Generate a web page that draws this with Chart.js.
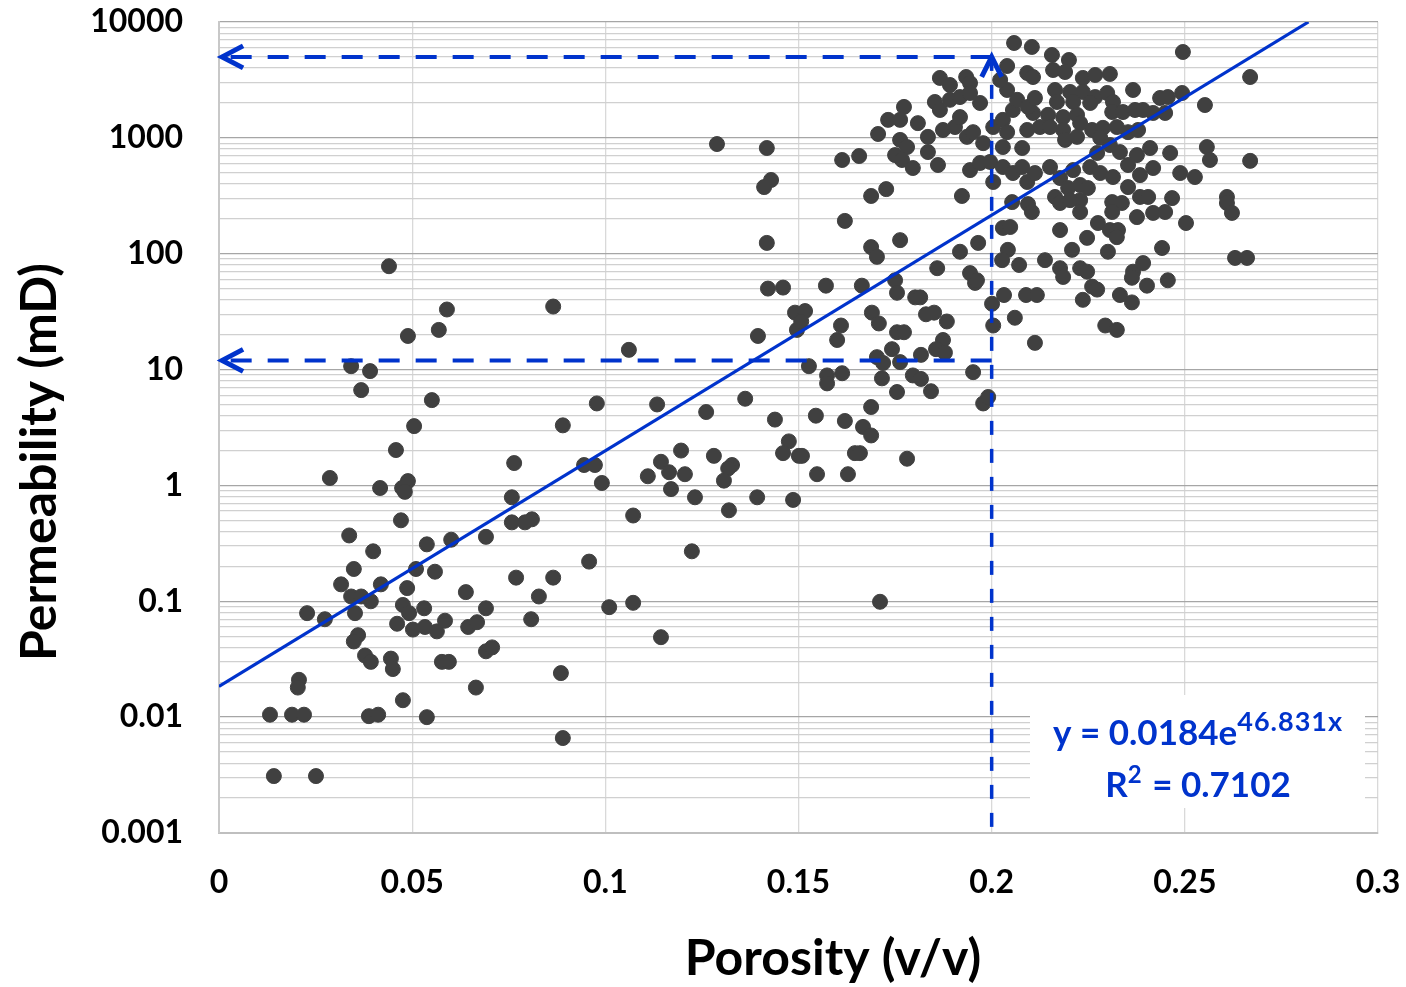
<!DOCTYPE html>
<html>
<head>
<meta charset="utf-8">
<title>Porosity vs Permeability</title>
<script src="https://cdn.jsdelivr.net/npm/chart.js@4.4.1/dist/chart.umd.min.js"></script>
<style>
  html, body { margin: 0; padding: 0; background: #ffffff; }
  #wrap { width: 1406px; height: 987px; position: relative; }
</style>
</head>
<body>
<div id="wrap"><canvas id="chart" width="1406" height="987"></canvas></div>
<script>
// Core plug measurements: porosity (v/v) and permeability (mD)
const porosity = [
  0.0440,0.0590,0.0569,0.0489,0.0342,0.0391,0.0368,0.0551,0.0505,0.0458,
  0.0764,0.0287,0.0417,0.0489,0.0474,0.0481,0.0758,0.0471,0.0337,0.0399,
  0.0538,0.0601,0.0691,0.0758,0.0349,0.0510,0.0559,0.0769,0.0316,0.0419,
  0.0487,0.0639,0.0342,0.0368,0.0393,0.0228,0.0274,0.0352,0.0476,0.0492,
  0.0531,0.0691,0.0461,0.0502,0.0533,0.0564,0.0585,0.0645,0.0668,0.0360,
  0.0349,0.0378,0.0393,0.0445,0.0450,0.0577,0.0595,0.0691,0.0707,0.0207,
  0.0204,0.0476,0.0665,0.0132,0.0189,0.0220,0.0388,0.0412,0.0538,0.0142,
  0.0251,
  0.1395,0.1496,0.1061,0.0978,0.1134,0.1261,0.1362,0.1439,0.0890,0.1475,
  0.1460,0.1501,0.0945,0.0973,0.0991,0.1144,0.1165,0.1196,0.1206,0.1110,
  0.1170,0.1281,0.1328,0.1318,0.1307,0.1232,0.1393,0.1320,0.1486,0.1072,
  0.0792,0.0810,0.1224,0.0958,0.0865,0.0828,0.0808,0.1010,0.1072,0.1144,
  0.0885,0.0890,0.0865,
  0.1289,0.1418,0.1429,0.1411,0.1613,0.1657,0.1706,0.1732,0.1727,0.1688,
  0.1620,0.1418,0.1688,0.1703,0.1763,0.1421,0.1460,0.1571,0.1664,0.1750,
  0.1755,0.1491,0.1517,0.1507,0.1610,0.1600,0.1690,0.1708,0.1755,0.1742,
  0.1527,0.1574,0.1574,0.1613,0.1703,0.1719,0.1716,0.1755,0.1545,0.1620,
  0.1688,0.1667,0.1688,0.1509,0.1646,0.1548,0.1628,0.1750,
  0.1802,0.1815,0.1957,0.2001,0.2004,0.2032,0.2089,0.2117,0.2060,0.2112,
  0.1830,0.1851,0.1884,0.1773,0.1874,0.1856,0.1879,0.1817,0.1763,0.1796,
  0.1817,0.1843,0.1952,0.1978,0.1991,0.1659,0.1781,0.1711,
  0.2058,0.2104,0.2040,0.1866,0.1892,0.1934,0.1944,0.2092,0.1853,0.1866,
  0.1773,0.1763,0.1809,0.1763,0.1781,0.1768,0.1796,0.1835,0.1835,0.1861,
  0.1874,0.1905,0.1936,0.1952,0.1892,0.1918,0.1944,0.1970,0.1918,0.1978,
  0.2004,0.2029,0.2040,0.2055,0.2066,0.2040,0.2022,0.2029,0.1944,0.1970,
  0.1996,0.2029,0.2055,0.2079,0.2004,0.2079,0.2092,0.2107,0.2094,0.2092,
  0.2112,0.1923,0.2053,0.2094,0.2104,0.2112,0.2029,0.2048,0.1965,0.1918,
  0.2042,0.2027,0.2071,0.1859,0.1944,0.1962,0.2107,
  0.2495,0.2156,0.2200,0.2159,0.2190,0.2236,0.2268,0.2306,0.2164,0.2203,
  0.2236,0.2268,0.2299,0.2366,0.2436,0.2456,0.2493,0.2669,0.2552,0.2169,
  0.2211,0.2255,0.2314,0.2146,0.2185,0.2221,0.2312,0.2340,0.2371,0.2392,
  0.2418,0.2449,0.2125,0.2151,0.2185,0.2229,0.2260,0.2288,0.2324,0.2353,
  0.2379,0.2190,0.2221,0.2281,0.2306,0.2273,0.2332,0.2376,0.2410,0.2462,
  0.2557,0.2565,0.2669,0.2151,0.2177,0.2211,0.2255,0.2281,0.2314,0.2353,
  0.2384,0.2418,0.2488,0.2526,0.2164,0.2198,0.2229,0.2249,0.2229,0.2177,
  0.2203,0.2312,0.2337,0.2312,0.2353,0.2384,0.2405,0.2467,0.2229,0.2376,
  0.2418,0.2449,0.2609,0.2609,0.2622,0.2503,0.2177,0.2275,0.2306,0.2327,
  0.2324,0.2247,0.2208,0.2301,0.2441,0.2138,0.2630,0.2661,0.2177,0.2185,
  0.2229,0.2247,0.2366,0.2392,0.2363,0.2456,0.2260,0.2236,0.2273,0.2332,
  0.2363,0.2402,0.2294,0.2324
];
const permeability = [
  78,33,22,19.5,10.7,9.7,6.65,5.45,3.25,2.02,
  1.56,1.16,0.95,1.09,0.95,0.88,0.79,0.50,0.37,0.27,
  0.31,0.34,0.36,0.48,0.19,0.19,0.18,0.16,0.14,0.14,
  0.13,0.12,0.11,0.11,0.10,0.079,0.070,0.079,0.093,0.079,
  0.087,0.087,0.064,0.057,0.060,0.055,0.068,0.060,0.066,0.051,
  0.045,0.034,0.030,0.032,0.026,0.030,0.030,0.037,0.040,0.021,
  0.018,0.014,0.018,0.0105,0.0105,0.0105,0.0102,0.0105,0.010,0.0031,
  0.0031,
  19.5,22,14.8,5.1,5.0,4.3,5.6,3.7,3.3,2.4,
  1.9,1.8,1.5,1.5,1.05,1.6,1.3,2.0,1.25,1.2,
  0.93,1.8,1.5,1.4,1.1,0.79,0.79,0.61,0.75,0.55,
  0.48,0.51,0.27,0.22,0.16,0.11,0.070,0.089,0.097,0.049,
  0.024,0.0066,35,
  884,817,433,376,644,697,1080,1430,361,315,
  192,124,114,94,131,50,51,53,53,59,
  46,31,32,26,24,18,31,25,21,15,
  10.7,8.9,7.6,9.3,12.8,11.4,8.4,6.4,4.0,3.6,
  4.75,3.2,2.7,1.8,1.9,1.25,1.25,710,
  42,42,56,37,24,44,44,44,28,17,
  30,31,26,21,18,15,14,13.4,11.6,8.9,
  8.3,6.5,9.5,5.1,5.8,1.9,1.7,0.099,
  6590,6090,4170,3290,2860,3350,2970,3630,2040,1740,
  1850,1430,1340,960,833,644,549,1020,754,583,
  1170,1240,1020,1120,2130,2250,2440,2000,1510,900,
  1240,1430,1120,1740,2130,2590,3160,833,527,607,
  620,560,497,560,416,817,1170,1640,1850,416,
  497,315,279,268,229,2210,167,170,124,104,
  108,88,80,75,68,59,3350,
  5510,5190,4700,3850,3700,3290,3490,3560,2590,2490,
  2490,2250,2440,2590,2210,2250,2440,3350,1920,2040,
  2040,2000,2040,1580,1510,1580,1670,1670,1740,1740,
  1640,1640,1240,1240,1170,1340,1170,1220,1240,1120,
  1170,960,1020,1000,867,740,754,710,817,740,
  833,644,633,560,450,527,560,497,459,583,
  477,549,497,459,309,369,392,369,290,274,
  290,279,274,229,376,309,309,302,229,207,
  225,229,309,274,225,184,160,184,160,160,
  139,137,108,104,112,88,92,92,75,63,
  75,70,70,83,62,59,52,40,49,44,
  38,53,24,22
];

// Exponential fit reported on the chart
const trendCoef = 0.0184;
const trendExp = 46.831;
const trendR2 = '0.7102';
const trendRange = [0, 0.282];

// Cut-off guides
const cutoffPorosity = 0.2;
const cutoffPermHigh = 5000;
const cutoffPermLow = 12;
const guideEndPorosity = 0.0008;

// Axis ticks
const xTickValues = [0, 0.05, 0.1, 0.15, 0.2, 0.25, 0.3];
const yDecades = [0.001, 0.01, 0.1, 1, 10, 100, 1000, 10000];
const yMinorSteps = [2, 3, 4, 5, 6, 7, 8, 9];

const BLUE = '#0033cc';
const FONT = 'Lato';

const yTickValues = [];
yDecades.forEach((d, i) => {
  yTickValues.push(d);
  if (i < yDecades.length - 1) yMinorSteps.forEach(m => yTickValues.push(+(d * m).toPrecision(3)));
});
const isDecade = v => Math.abs(Math.log10(v) - Math.round(Math.log10(v))) < 1e-6;

const samples = porosity.map((p, i) => ({ x: p, y: permeability[i] }));
const trendPoints = trendRange.map(x => ({ x, y: trendCoef * Math.exp(trendExp * x) }));

// Arrow heads at the ends of the cut-off guides
const arrowPlugin = {
  id: 'guideArrows',
  afterDatasetsDraw(chart) {
    const { ctx, scales: { x, y } } = chart;
    ctx.save();
    ctx.strokeStyle = BLUE;
    ctx.lineWidth = 5;
    ctx.lineJoin = 'miter';
    [cutoffPermHigh, cutoffPermLow].forEach(level => {
      const tx = x.getPixelForValue(guideEndPorosity), ty = y.getPixelForValue(level);
      ctx.beginPath();
      ctx.moveTo(tx + 21, ty - 11);
      ctx.lineTo(tx, ty);
      ctx.lineTo(tx + 21, ty + 11);
      ctx.stroke();
    });
    const ux = x.getPixelForValue(cutoffPorosity), uy = y.getPixelForValue(cutoffPermHigh);
    ctx.beginPath();
    ctx.moveTo(ux - 10, uy + 20);
    ctx.lineTo(ux, uy);
    ctx.lineTo(ux + 10, uy + 20);
    ctx.stroke();
    ctx.restore();
  }
};

// Fit equation label on a white box
function drawRuns(ctx, runs, cx, baseline) {
  const widthOf = r => {
    ctx.font = r.font;
    ctx.letterSpacing = r.spacing || '0px';
    return ctx.measureText(r.text).width;
  };
  const total = runs.reduce((s, r) => s + widthOf(r), 0);
  let xPos = cx - total / 2;
  runs.forEach(r => {
    const w = widthOf(r);
    ctx.fillText(r.text, xPos, baseline - (r.rise || 0));
    xPos += w;
  });
  ctx.letterSpacing = '0px';
}
const equationPlugin = {
  id: 'fitEquation',
  beforeDatasetsDraw(chart) {
    const { ctx, chartArea } = chart;
    const bx = chartArea.right - 348, by = chartArea.bottom - 138;
    ctx.save();
    ctx.fillStyle = '#ffffff';
    ctx.fillRect(bx, by, 335, 113);
    ctx.fillStyle = BLUE;
    ctx.textAlign = 'left';
    ctx.textBaseline = 'alphabetic';
    const main = `bold 35px ${FONT}`, sup = `bold 27px ${FONT}`;
    const cx = bx + 168;
    drawRuns(ctx, [
      { text: `y = ${trendCoef}e`, font: main },
      { text: `${trendExp}x`, font: sup, rise: 14, spacing: '1px' }
    ], cx, by + 50);
    drawRuns(ctx, [
      { text: 'R', font: main },
      { text: '2', font: `bold 24px ${FONT}`, rise: 14, spacing: '2px' },
      { text: ` = ${trendR2}`, font: main }
    ], cx, by + 102);
    ctx.restore();
  }
};

// Axis titles
const titlesPlugin = {
  id: 'axisTitles',
  afterDraw(chart) {
    const { ctx, chartArea } = chart;
    ctx.save();
    ctx.fillStyle = '#000000';
    ctx.font = `bold 50px ${FONT}`;
    ctx.textAlign = 'center';
    ctx.textBaseline = 'alphabetic';
    ctx.fillText('Porosity (v/v)', chartArea.left + 614, 975);
    ctx.translate(56, chartArea.top + 440);
    ctx.rotate(-Math.PI / 2);
    ctx.fillText('Permeability (mD)', 0, 0);
    ctx.restore();
  }
};

new Chart(document.getElementById('chart'), {
  type: 'scatter',
  data: {
    datasets: [
      { label: 'trend', data: trendPoints, showLine: true, borderColor: BLUE, borderWidth: 3.2, pointRadius: 0, fill: false },
      { label: 'cutoff-porosity', data: [{ x: cutoffPorosity, y: cutoffPermHigh }, { x: cutoffPorosity, y: yDecades[0] }],
        showLine: true, borderColor: BLUE, borderWidth: 3.5, borderDash: [14, 14], pointRadius: 0, fill: false },
      { label: 'cutoff-high', data: [{ x: cutoffPorosity, y: cutoffPermHigh }, { x: guideEndPorosity, y: cutoffPermHigh }],
        showLine: true, borderColor: BLUE, borderWidth: 4, borderDash: [21, 16], pointRadius: 0, fill: false },
      { label: 'cutoff-low', data: [{ x: cutoffPorosity, y: cutoffPermLow }, { x: guideEndPorosity, y: cutoffPermLow }],
        showLine: true, borderColor: BLUE, borderWidth: 4, borderDash: [21, 16], pointRadius: 0, fill: false },
      { label: 'samples', data: samples, backgroundColor: '#404040', borderColor: '#404040', borderWidth: 1, pointRadius: 7.5, pointHoverRadius: 7.5 }
    ]
  },
  options: {
    responsive: false,
    animation: false,
    devicePixelRatio: 1,
    layout: { padding: { left: 10, right: 28, top: 22, bottom: 10 } },
    plugins: { legend: { display: false }, tooltip: { enabled: false } },
    events: [],
    scales: {
      x: {
        type: 'linear', min: 0, max: 0.3,
        afterBuildTicks: s => { s.ticks = xTickValues.map(v => ({ value: v })); },
        afterFit: s => { s.height = 144; s.paddingLeft = 0; s.paddingRight = 0; },
        ticks: {
          autoSkip: false, maxRotation: 0, padding: 30, color: '#000000',
          font: { family: FONT, size: 32, weight: 'bold' },
          callback: v => String(Math.round(v * 100) / 100)
        },
        grid: { color: '#d9d9d9', lineWidth: 1.3, drawTicks: false },
        border: { color: '#bfbfbf', width: 2 }
      },
      y: {
        type: 'logarithmic', min: 0.001, max: 10000,
        afterBuildTicks: s => { s.ticks = yTickValues.map(v => ({ value: v })); },
        afterFit: s => { s.width = 209; s.paddingTop = 0; s.paddingBottom = 0; },
        ticks: {
          autoSkip: false, padding: 36, color: '#000000',
          font: { family: FONT, size: 32, weight: 'bold' },
          callback: v => isDecade(v) ? String(+Number(v).toPrecision(1)) : ''
        },
        grid: {
          color: ctx => (ctx.tick && isDecade(ctx.tick.value)) ? '#a6a6a6' : '#d0d0d0',
          lineWidth: 1.3, drawTicks: false
        },
        border: { color: '#c8c8c8', width: 2 }
      }
    }
  },
  plugins: [equationPlugin, arrowPlugin, titlesPlugin]
});
</script>
</body>
</html>
